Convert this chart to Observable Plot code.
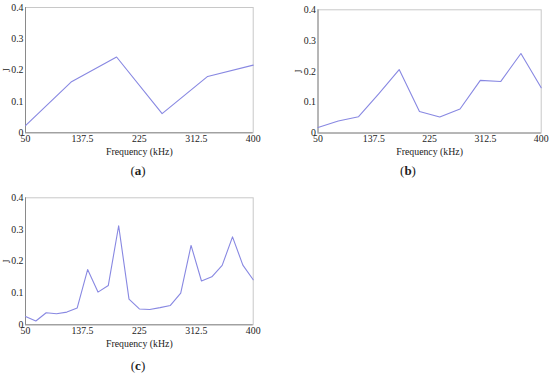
<!DOCTYPE html>
<html>
<head>
<meta charset="utf-8">
<script src="https://cdn.jsdelivr.net/npm/d3@7"></script>
<script src="https://cdn.jsdelivr.net/npm/@observablehq/plot@0.6"></script>
<style>
  html, body { margin: 0; padding: 0; background: #fff; }
  #wrap { position: relative; width: 550px; height: 376px; font-family: "Liberation Serif", serif; color: #222; }
  .panel { position: absolute; }
  .panel svg, .panel svg text { font-family: "Liberation Serif", serif !important; }
  .tag { position: absolute; font-size: 13px; transform: translateX(-50%); }
  .tag b { font-weight: bold; }
</style>
</head>
<body>
<div id="wrap">
  <div class="panel" id="pa" style="left:0;top:0"></div>
  <div class="panel" id="pb" style="left:275px;top:0"></div>
  <div class="panel" id="pc" style="left:0;top:185px"></div>
  <div class="tag" style="left:138px;top:163px">(<b>a</b>)</div>
  <div class="tag" style="left:408px;top:163px">(<b>b</b>)</div>
  <div class="tag" style="left:138px;top:358px">(<b>c</b>)</div>
</div>
<script>
// Frequencies (kHz) and J values
const freqA = [50, 120, 190, 260, 330, 400];
const jA = [0.023, 0.162, 0.242, 0.061, 0.18, 0.216];

const freqB = [50, 81.8, 113.6, 145.5, 177.3, 209.1, 240.9, 272.7, 304.5, 336.4, 368.2, 400];
const jB = [0.018, 0.039, 0.053, 0.128, 0.206, 0.07, 0.052, 0.078, 0.171, 0.167, 0.258, 0.147];

const freqC = [50, 65.9, 81.8, 97.7, 113.6, 129.5, 145.5, 161.4, 177.3, 193.2, 209.1, 225,
               240.9, 256.8, 272.7, 288.6, 304.5, 320.5, 336.4, 352.3, 368.2, 384.1, 400];
const jC = [0.026, 0.012, 0.038, 0.035, 0.04, 0.053, 0.174, 0.103, 0.124, 0.312, 0.081, 0.05,
            0.048, 0.054, 0.061, 0.1, 0.25, 0.138, 0.151, 0.187, 0.277, 0.188, 0.142];

const xTicks = [50, 137.5, 225, 312.5, 400];
const yTicks = [0, 0.1, 0.2, 0.3, 0.4];

const FONT = "'Liberation Serif', serif";

function panel(freq, j, opts) {
  const data = freq.map((f, i) => ({f, j: j[i]}));
  return Plot.plot({
    width: 275,
    height: opts.height,
    marginLeft: opts.ml, marginRight: opts.mr, marginTop: opts.mt, marginBottom: opts.mb,
    style: {fontFamily: FONT, fontSize: "11px", color: "#222", background: "white"},
    x: {domain: [50, 400]},
    y: {domain: [0, 0.4]},
    marks: [
      Plot.frame({stroke: "#c8c8c8"}),
      Plot.ruleX([50], {stroke: "#8a8a8a"}),
      Plot.ruleY([0], {stroke: "#8a8a8a"}),
      Plot.line(data, {x: "f", y: "j", stroke: "#8888e2", strokeWidth: 1.1}),
      Plot.axisX(xTicks, {tickSize: 0, tickPadding: 2, fontSize: 9.8, fontFamily: FONT, label: "Frequency (kHz)",
        labelAnchor: "center", labelArrow: "none", labelOffset: 22, tickFormat: d => String(d)}),
      Plot.axisY(yTicks, {tickSize: 0, tickPadding: 2, fontSize: 9.8, fontFamily: FONT, label: "J",
        labelAnchor: "center", labelArrow: "none", labelOffset: opts.lo, tickFormat: d => String(d)})
    ]
  });
}

document.getElementById("pa").append(panel(freqA, jA, {height: 165, ml: 25, mr: 22.3, mt: 7, mb: 32.7, lo: 22}));
document.getElementById("pb").append(panel(freqB, jB, {height: 165, ml: 42.5, mr: 9.3, mt: 9.3, mb: 32.5, lo: 23}));
document.getElementById("pc").append(panel(freqC, jC, {height: 175, ml: 25, mr: 22.3, mt: 12.3, mb: 35.7, lo: 22}));
</script>
</body>
</html>
